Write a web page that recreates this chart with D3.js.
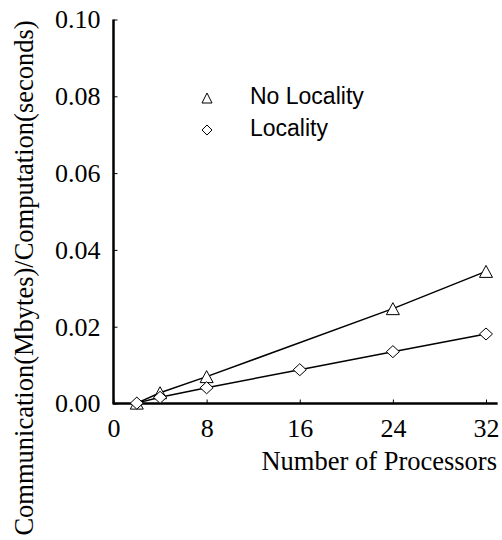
<!DOCTYPE html>
<html>
<head>
<meta charset="utf-8">
<script src="https://cdn.jsdelivr.net/npm/d3@7"></script>
<style>
  body { margin: 0; background: #fff; }
  svg { display: block; }
</style>
</head>
<body>
<div id="chart"></div>
<script>
// Data
const procsNoLocality = [2, 4, 8, 24, 32];
const noLocality = [0.0001, 0.0028, 0.0070, 0.0247, 0.0344];
const procsLocality = [2, 4, 8, 16, 24, 32];
const locality = [0.0001, 0.0016, 0.0041, 0.0088, 0.0135, 0.0181];
const xTicks = [0, 8, 16, 24, 32];
const yTicks = [0, 0.02, 0.04, 0.06, 0.08, 0.10];
const seriesNames = ['No Locality', 'Locality'];

const width = 502, height = 540;
const serif = '"Liberation Serif", "Times New Roman", serif';
const sans = '"Liberation Sans", Arial, sans-serif';

const svg = d3.select('#chart').append('svg')
    .attr('width', width)
    .attr('height', height);

const x = d3.scaleLinear().domain([0, 32]).range([113.5, 486]);
const y = d3.scaleLinear().domain([0, 0.10]).range([403.5, 19.5]);

// marker shapes
function triangle(cx, cy, w, h) {
    return `M${cx},${cy - h / 2}L${cx + w / 2},${cy + h / 2}L${cx - w / 2},${cy + h / 2}Z`;
}
function diamond(cx, cy, w, h) {
    return `M${cx},${cy - h / 2}L${cx + w / 2},${cy}L${cx},${cy + h / 2}L${cx - w / 2},${cy}Z`;
}

// y axis
const yAxis = svg.append('g')
    .attr('transform', `translate(${x(0)},0)`)
    .call(d3.axisLeft(y).tickValues(yTicks).tickFormat(d3.format('.2f'))
        .tickSizeInner(-4).tickSizeOuter(0).tickPadding(13));
yAxis.attr('font-family', serif).attr('font-size', 26);
yAxis.select('.domain').remove();
yAxis.selectAll('.tick line').attr('stroke', '#000').attr('stroke-width', 1);
yAxis.selectAll('text').attr('fill', '#000');

// x axis
const xAxis = svg.append('g')
    .attr('transform', `translate(0,${y(0)})`)
    .call(d3.axisBottom(x).tickValues(xTicks)
        .tickSizeInner(-4).tickSizeOuter(0).tickPadding(15));
xAxis.attr('font-family', serif).attr('font-size', 26);
xAxis.select('.domain').remove();
xAxis.selectAll('.tick line').attr('stroke', '#000').attr('stroke-width', 1);
xAxis.selectAll('text').attr('fill', '#000');

// axis lines
svg.append('line')
    .attr('x1', x(0)).attr('x2', x(0))
    .attr('y1', y(0.10)).attr('y2', y(0))
    .attr('stroke', '#000').attr('stroke-width', 2.5);
svg.append('line')
    .attr('x1', x(0) - 1).attr('x2', x(33))
    .attr('y1', y(0)).attr('y2', y(0))
    .attr('stroke', '#000').attr('stroke-width', 2.5);

// series lines
const line = d3.line().x(d => x(d[0])).y(d => y(d[1]));
const noLocPts = procsNoLocality.map((p, i) => [p, noLocality[i]]);
const locPts = procsLocality.map((p, i) => [p, locality[i]]);

svg.append('path').datum(noLocPts)
    .attr('d', line).attr('fill', 'none').attr('stroke', '#000').attr('stroke-width', 1.5);
svg.append('path').datum(locPts)
    .attr('d', line).attr('fill', 'none').attr('stroke', '#000').attr('stroke-width', 1.5);

svg.selectAll('.tri').data(noLocPts).enter().append('path')
    .attr('class', 'tri')
    .attr('d', d => triangle(x(d[0]), y(d[1]), 13, 12))
    .attr('fill', '#fff').attr('stroke', '#000').attr('stroke-width', 1);
svg.selectAll('.dia').data(locPts).enter().append('path')
    .attr('class', 'dia')
    .attr('d', d => diamond(x(d[0]), y(d[1]), 13, 12))
    .attr('fill', '#fff').attr('stroke', '#000').attr('stroke-width', 1);

// legend
const legend = svg.append('g');
legend.append('path').attr('d', triangle(207, 98, 10, 10))
    .attr('fill', '#fff').attr('stroke', '#000').attr('stroke-width', 1);
legend.append('path').attr('d', diamond(207, 130, 10, 10))
    .attr('fill', '#fff').attr('stroke', '#000').attr('stroke-width', 1);
legend.selectAll('text').data(seriesNames).enter().append('text')
    .attr('x', 250)
    .attr('y', (d, i) => 104 + i * 32)
    .attr('font-family', sans).attr('font-size', 23)
    .text(d => d);

// axis titles
svg.append('text')
    .attr('x', 497).attr('y', 470)
    .attr('text-anchor', 'end')
    .attr('font-family', serif).attr('font-size', 26.5)
    .text('Number of Processors');
svg.append('text')
    .attr('transform', 'translate(33,278) rotate(-90)')
    .attr('text-anchor', 'middle')
    .attr('font-family', serif).attr('font-size', 26.5)
    .text('Communication(Mbytes)/Computation(seconds)');
</script>
</body>
</html>
